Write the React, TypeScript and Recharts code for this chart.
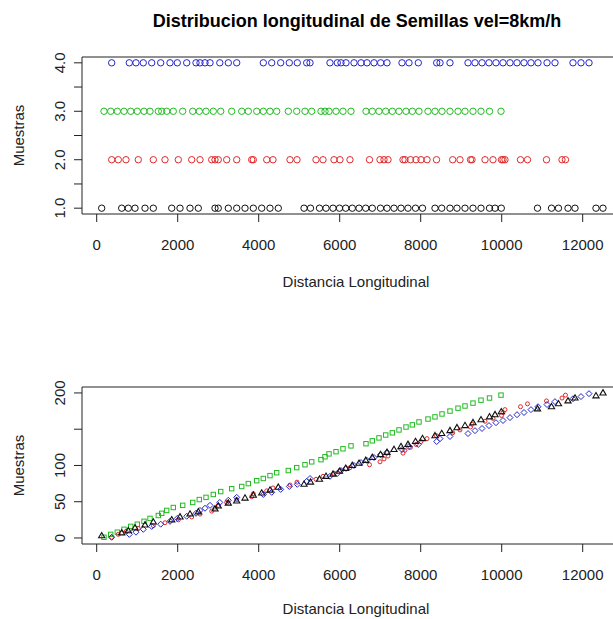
import React from 'react';
import { ScatterChart, Scatter, XAxis, YAxis, ReferenceArea } from 'recharts';

// tick values
const xTicks = [0, 2000, 4000, 6000, 8000, 10000, 12000];
const rowTicks = [1, 1.5, 2, 2.5, 3, 3.5, 4];
const countTicks = [0, 50, 100, 150, 200];

// row of each sample in the upper plot
const blackRow = 1;
const redRow = 2;
const greenRow = 3;
const blueRow = 4;

// distances (upper and lower plot)
const blackX = [123, 617, 780, 946, 1193, 1398, 1852, 2057, 2304, 2509, 2921, 3002, 3249, 3457, 3662, 3867, 4074, 4279, 4484, 5119, 5279, 5501, 5662, 5835, 5995, 6148, 6311, 6477, 6642, 6805, 7007, 7168, 7341, 7514, 7686, 7872, 8044, 8353, 8519, 8723, 8896, 9094, 9291, 9489, 9699, 9835, 9990, 10884, 11230, 11402, 11637, 11810, 12328, 12501];
const redX = [370, 533, 723, 1027, 1398, 1686, 2015, 2346, 2551, 2840, 2921, 3002, 3210, 3457, 3827, 3867, 4198, 4353, 4773, 4946, 5415, 5588, 5859, 6007, 6254, 6736, 6995, 7094, 7193, 7563, 7612, 7748, 7884, 8007, 8156, 8390, 8790, 8970, 9230, 9267, 9588, 9785, 9995, 10032, 10081, 10464, 10637, 11106, 11489, 11575];
const greenX = [180, 346, 509, 674, 840, 1002, 1168, 1316, 1521, 1605, 1728, 1891, 2123, 2370, 2533, 2699, 2879, 3062, 3333, 3580, 3743, 3951, 4114, 4279, 4444, 4731, 4938, 5143, 5309, 5538, 5637, 5736, 5909, 6081, 6279, 6649, 6805, 6970, 7136, 7299, 7464, 7637, 7793, 7958, 8180, 8353, 8526, 8723, 8921, 9094, 9291, 9489, 9699, 9983];
const blueX = [370, 805, 970, 1150, 1358, 1580, 1810, 1990, 2222, 2452, 2550, 2674, 2798, 3040, 3250, 3457, 4114, 4321, 4543, 4756, 4953, 5185, 5267, 5760, 5941, 6032, 6156, 6353, 6526, 6674, 6847, 7012, 7168, 7538, 7711, 7941, 8395, 8477, 8723, 9168, 9341, 9514, 9686, 9859, 10032, 10205, 10378, 10551, 10723, 10896, 11119, 11316, 11760, 11958, 12156];

// accumulated samples (lower plot)
const blackY = [3, 7, 10, 14, 18, 22, 25, 29, 33, 36, 40, 44, 48, 51, 55, 59, 62, 66, 70, 74, 77, 81, 85, 88, 92, 96, 100, 103, 107, 111, 115, 118, 122, 126, 129, 133, 137, 141, 144, 148, 152, 155, 159, 163, 167, 170, 174, 178, 181, 185, 189, 193, 196, 200];
const redY = [1, 5, 9, 13, 17, 21, 25, 29, 33, 37, 41, 45, 49, 53, 57, 61, 65, 69, 73, 77, 81, 85, 89, 93, 97, 101, 105, 109, 113, 117, 121, 125, 129, 133, 137, 141, 145, 149, 153, 157, 161, 165, 169, 173, 177, 181, 185, 189, 193, 197];
const greenY = [1, 5, 8, 12, 16, 19, 23, 27, 31, 34, 38, 42, 45, 49, 53, 56, 60, 64, 68, 71, 75, 79, 82, 86, 90, 93, 97, 101, 105, 108, 112, 116, 119, 123, 127, 130, 134, 138, 142, 145, 149, 153, 156, 160, 164, 167, 171, 175, 179, 182, 186, 190, 193, 197];
const blueY = [1, 5, 8, 12, 16, 19, 23, 27, 30, 34, 38, 41, 45, 49, 52, 56, 60, 63, 67, 71, 74, 78, 82, 85, 89, 93, 96, 100, 104, 107, 111, 115, 118, 122, 126, 129, 133, 137, 140, 144, 148, 151, 155, 159, 162, 166, 170, 173, 177, 181, 184, 188, 192, 195, 199];

const FONT = '"Liberation Sans", Arial, Helvetica, sans-serif';
const INK = '#222';
const BLACK = '#111111';
const RED = '#E02A2A';
const GREEN = '#22BB22';
const BLUE = '#2525CC';

const xDomain: [number, number] = [-363, 13168];
const rowDomain: [number, number] = [0.88, 4.12];
const countDomain: [number, number] = [-8.3, 208.2];

const W = 640;
const H = 300;
const margin = { top: 57, right: 10, bottom: 56, left: 52 };

const rowData = (xs: number[], row: number) => xs.map((x) => ({ x, y: row }));
const cumData = (xs: number[], ys: number[]) => xs.map((x, i) => ({ x, y: ys[i] }));

const ring = (color: string, r: number) => (p: any) => (
  <circle cx={p.cx} cy={p.cy} r={r} fill="none" stroke={color} strokeWidth={1} />
);
const square = (color: string) => (p: any) => (
  <rect x={p.cx - 2.2} y={p.cy - 2.2} width={4.4} height={4.4} fill="none" stroke={color} strokeWidth={1} />
);
const triangle = (color: string) => (p: any) => (
  <path d={`M${p.cx},${p.cy - 3.3} L${p.cx + 3.1},${p.cy + 2} L${p.cx - 3.1},${p.cy + 2} Z`} fill="none" stroke={color} strokeWidth={1.1} />
);
const diamond = (color: string) => (p: any) => (
  <path d={`M${p.cx},${p.cy - 3} L${p.cx + 3},${p.cy} L${p.cx},${p.cy + 3} L${p.cx - 3},${p.cy} Z`} fill="none" stroke={color} strokeWidth={1} />
);

const XTick = (p: any) => (
  <text x={p.x} y={p.y + 26} textAnchor="middle" fontSize={15} fontFamily={FONT} fill={INK}>
    {p.payload.value}
  </text>
);

const makeYTick = (fmt: (v: number) => string) => (p: any) => {
  const label = fmt(p.payload.value);
  if (!label) return <g />;
  const bx = p.x - 7;
  return (
    <text x={bx} y={p.y} transform={`rotate(-90, ${bx}, ${p.y})`} textAnchor="middle" fontSize={15} fontFamily={FONT} fill={INK}>
      {label}
    </text>
  );
};

const rowTick = makeYTick((v) => (Number.isInteger(v) ? v.toFixed(1) : ''));
const countTick = makeYTick((v) => (v === 150 ? '' : String(v)));

const makeXTitle = (baseline: number) => () => (
  <text x={356} y={baseline} textAnchor="middle" fontSize={15} fontFamily={FONT} fill={INK}>
    Distancia Longitudinal
  </text>
);
const yTitle = () => (
  <text x={24} y={135.5} transform="rotate(-90, 24, 135.5)" textAnchor="middle" fontSize={15} fontFamily={FONT} fill={INK}>
    Muestras
  </text>
);

const Axes = (yDomain: [number, number], yTicks: number[], yTick: any, titleBaseline: number) => [
  <XAxis
    key="x"
    type="number"
    dataKey="x"
    domain={xDomain}
    ticks={xTicks}
    allowDataOverflow
    height={30}
    axisLine={false}
    tickSize={8}
    tickLine={{ stroke: INK }}
    tick={XTick}
    label={makeXTitle(titleBaseline)}
  />,
  <YAxis
    key="y"
    type="number"
    dataKey="y"
    domain={yDomain}
    ticks={yTicks}
    allowDataOverflow
    width={30}
    axisLine={false}
    tickSize={8}
    tickLine={{ stroke: INK }}
    tick={yTick}
    label={yTitle}
  />,
  <ReferenceArea
    key="box"
    x1={xDomain[0]}
    x2={xDomain[1]}
    y1={yDomain[0]}
    y2={yDomain[1]}
    fill="none"
    fillOpacity={0}
    stroke={INK}
    strokeWidth={1}
    ifOverflow="visible"
  />,
];

export default function App() {
  return (
    <div style={{ position: 'fixed', left: 0, top: 0, width: 613, height: 619, overflow: 'hidden', background: '#fff' }}>
      <svg width={613} height={40} style={{ position: 'absolute', left: 0, top: 0 }}>
        <text x={357} y={27} textAnchor="middle" fontSize={18} fontWeight="bold" fontFamily={FONT} fill="#000">
          Distribucion longitudinal de Semillas vel=8km/h
        </text>
      </svg>

      <div style={{ position: 'absolute', left: 0, top: 0 }}>
        <ScatterChart width={W} height={H} margin={margin}>
          {Axes(rowDomain, rowTicks, rowTick, 287)}
          <Scatter data={rowData(blackX, blackRow)} shape={ring(BLACK, 3.2)} isAnimationActive={false} />
          <Scatter data={rowData(redX, redRow)} shape={ring(RED, 3.2)} isAnimationActive={false} />
          <Scatter data={rowData(greenX, greenRow)} shape={ring(GREEN, 3.2)} isAnimationActive={false} />
          <Scatter data={rowData(blueX, blueRow)} shape={ring(BLUE, 3.2)} isAnimationActive={false} />
        </ScatterChart>
      </div>

      <div style={{ position: 'absolute', left: 0, top: 329.7 }}>
        <ScatterChart width={W} height={H} margin={margin}>
          {Axes(countDomain, countTicks, countTick, 284.3)}
          <Scatter data={cumData(greenX, greenY)} shape={square(GREEN)} isAnimationActive={false} />
          <Scatter data={cumData(redX, redY)} shape={ring(RED, 2)} isAnimationActive={false} />
          <Scatter data={cumData(blueX, blueY)} shape={diamond(BLUE)} isAnimationActive={false} />
          <Scatter data={cumData(blackX, blackY)} shape={triangle(BLACK)} isAnimationActive={false} />
        </ScatterChart>
      </div>
    </div>
  );
}
